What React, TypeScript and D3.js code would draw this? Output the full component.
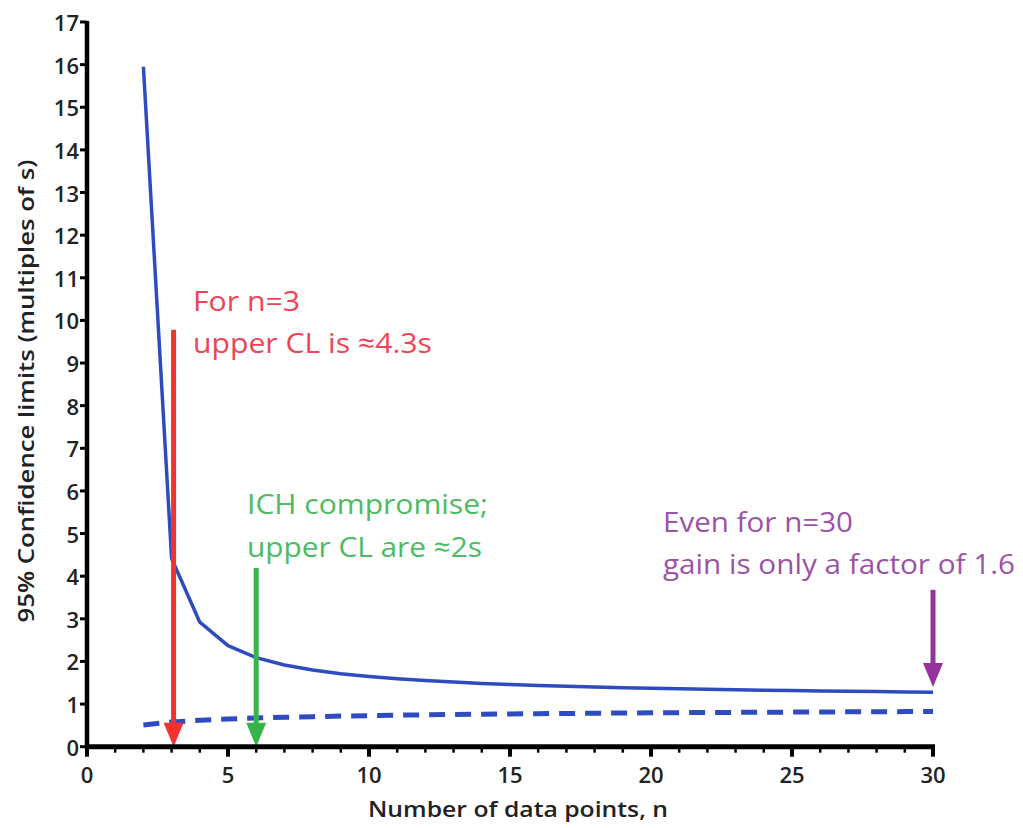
import React from "react";
import * as d3 from "d3";

const nValues = [2,3,4,5,6,7,8,9,10,11,12,13,14,15,16,17,18,19,20,21,22,23,24,25,26,27,28,29,30];
const upperCL = [15.95,4.415,2.92,2.372,2.089,1.915,1.797,1.711,1.645,1.593,1.551,1.515,1.485,1.46,1.437,1.418,1.4,1.384,1.37,1.358,1.346,1.335,1.326,1.316,1.308,1.3,1.293,1.286,1.28];
const lowerCL = [0.51,0.578,0.62,0.649,0.672,0.69,0.705,0.718,0.729,0.739,0.748,0.755,0.762,0.769,0.775,0.78,0.785,0.79,0.794,0.798,0.802,0.805,0.809,0.812,0.815,0.818,0.82,0.823,0.826];

const xTicksMajor = [0,5,10,15,20,25,30];
const xTicksMinor = d3.range(0, 31);
const yTicks = d3.range(0, 18);

const arrowX = [3, 6, 30];
const arrowTop = [9.78, 4.19, 3.68];
const arrowTip = [0, 0, 1.4];
const arrowColors = ["#f2322f", "#35b449", "#93339b"];

const noteLines = [
  ["For n=3", "upper CL is \u22484.3s"],
  ["ICH compromise;", "upper CL are \u22482s"],
  ["Even for n=30", "gain is only a factor of 1.6"],
];
const noteColors = ["#ef4455", "#4cbb62", "#9b52a8"];

const FONT = "'Open Sans', 'Noto Sans', sans-serif";

export default function App() {
  const x = d3.scaleLinear().domain([0, 30]).range([87, 933]);
  const y = d3.scaleLinear().domain([0, 17]).range([746.7, 22]);

  const line = d3
    .line<number>()
    .x((_, i) => x(nValues[i]))
    .y((d) => y(d));

  // annotation layout: [x, baseline1, baseline2, width1, width2]
  const noteLayout = [
    [193, 311, 353, 107, 239],
    [247, 514, 557, 241, 235],
    [663, 532, 574, 190, 352],
  ];

  return (
    <svg
      width={1023}
      height={828}
      style={{ position: "absolute", left: 0, top: 0, background: "#fff" }}
      fontFamily={FONT}
    >
      <rect x={0} y={0} width={1023} height={828} fill="#fff" />
      {/* curves */}
      <path d={line(upperCL) || ""} fill="none" stroke="#2e4cbf" strokeWidth={3.5} strokeLinejoin="round" />
      <path
        d={line(lowerCL) || ""}
        fill="none"
        stroke="#2e4cbf"
        strokeWidth={5}
        strokeDasharray="16 10"
      />

      {/* arrows */}
      {arrowX.map((ax, i) => {
        const cx = x(ax) + (i === 0 ? 2 : 0);
        const top = y(arrowTop[i]);
        const tip = y(arrowTip[i]);
        const headH = 24;
        const headW = 10;
        return (
          <g key={i}>
            <line x1={cx} x2={cx} y1={top} y2={tip - headH + 2} stroke={arrowColors[i]} strokeWidth={5} />
            <path
              d={`M${cx - headW},${tip - headH} L${cx + headW},${tip - headH} L${cx},${tip} Z`}
              fill={arrowColors[i]}
            />
          </g>
        );
      })}

      {/* axes */}
      <line x1={87} x2={87} y1={y(17) - 1} y2={y(0) + 2} stroke="#000" strokeWidth={4.5} />
      <line x1={x(0) - 2} x2={x(30) + 2} y1={y(0)} y2={y(0)} stroke="#000" strokeWidth={5} />
      {yTicks.map((t) => (
        <g key={"y" + t}>
          <line x1={80} x2={87} y1={y(t)} y2={y(t)} stroke="#000" strokeWidth={3} />
          <text
            x={79}
            y={y(t)}
            textAnchor="end"
            dominantBaseline="central"
            fontSize={22}
            fontWeight={600}
            fill="#222"
          >
            {t}
          </text>
        </g>
      ))}
      {xTicksMinor.map((t) => (
        <line key={"xm" + t} x1={x(t)} x2={x(t)} y1={y(0)} y2={y(0) + 6} stroke="#000" strokeWidth={2.5} />
      ))}
      {xTicksMajor.map((t) => (
        <g key={"x" + t}>
          <line x1={x(t)} x2={x(t)} y1={y(0)} y2={y(0) + 10} stroke="#000" strokeWidth={4} />
          <text x={x(t)} y={783} textAnchor="middle" fontSize={22} fontWeight={600} fill="#222">
            {t}
          </text>
        </g>
      ))}

      {/* axis titles */}
      <text
        x={518}
        y={817}
        textAnchor="middle"
        fontSize={22}
        fontWeight={600}
        fill="#222"
        textLength={300}
        lengthAdjust="spacingAndGlyphs"
      >
        Number of data points, n
      </text>
      <text
        transform="translate(34,391) rotate(-90)"
        textAnchor="middle"
        fontSize={21}
        fontWeight={600}
        fill="#222"
        textLength={463}
        lengthAdjust="spacingAndGlyphs"
      >
        95% Confidence limits (multiples of s)
      </text>

      {/* annotations */}
      {noteLines.map((lines, i) => {
        const [nx, b1, b2, w1, w2] = noteLayout[i];
        return (
          <g key={"n" + i} fill={noteColors[i]} fontSize={28} fontWeight={500}>
            <text x={nx} y={b1} textLength={w1} lengthAdjust="spacingAndGlyphs">
              {lines[0]}
            </text>
            <text x={nx} y={b2} textLength={w2} lengthAdjust="spacingAndGlyphs">
              {lines[1]}
            </text>
          </g>
        );
      })}
    </svg>
  );
}
